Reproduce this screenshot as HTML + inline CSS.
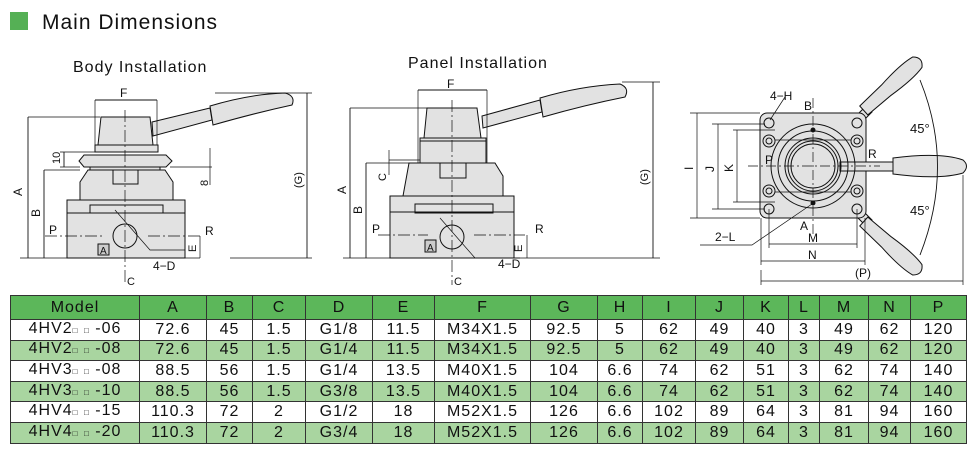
<!DOCTYPE html>
<html><head><meta charset="utf-8">
<style>
html,body{margin:0;padding:0;background:#fff;}
body{width:976px;height:455px;position:relative;overflow:hidden;font-family:"Liberation Sans",Arial,sans-serif;}
svg{position:absolute;left:0;top:0;}
table{position:absolute;left:10px;top:295px;width:956px;border-collapse:collapse;font-size:16px;color:#111;table-layout:fixed;}
td{border:1.5px solid #333;text-align:center;padding:0;line-height:16px;letter-spacing:1px;overflow:hidden;white-space:nowrap;}
tr{height:20.6px;}
tr.h{height:24px;}
tr.h td{background:#5cb75a;}
tr.g td{background:#a9d5a0;}
tr.w td{background:#fff;}
.sq{font-size:8px;vertical-align:baseline;}
</style></head><body>
<svg width="976" height="295" viewBox="0 0 976 295" font-family="Liberation Sans, Arial, sans-serif" fill="none" stroke="#111" stroke-width="1">
<rect x="10" y="12" width="18" height="18" fill="#55b055" stroke="none"/>
<text x="42" y="29" font-size="21" fill="#111" stroke="none" letter-spacing="1">Main Dimensions</text>
<text x="73" y="72" font-size="16" fill="#111" stroke="none" letter-spacing="1">Body Installation</text>
<text x="408" y="68" font-size="16" fill="#111" stroke="none" letter-spacing="1">Panel Installation</text>

<!-- ===== Body installation ===== -->
<g fill="#e2e2e2">
<path d="M152 122 L210 108 L212 120 L153 136 Z"/>
<path d="M210 106 Q250 94 285 93 Q296 96 292 105 Q255 113 213 125 Z"/>
<path d="M101 117 L150 117 L153 145 L98 145 Z"/>
<rect x="95" y="145" width="63" height="7"/>
<path d="M84 155 L166 155 L172 161 L166 167 L84 167 L79 161 Z"/>
<rect x="90" y="167" width="70" height="3"/>
<path d="M88 170 L165 170 L173 182 L173 200 L80 200 L80 182 Z"/>
<rect x="67" y="200" width="118" height="58"/>
<rect x="90" y="205" width="73" height="8"/>
</g>
<path d="M113 170 V184 H138 V170" />
<path d="M67 213 H185"/>
<circle cx="125" cy="236" r="12"/>
<rect x="98" y="244" width="11" height="11" fill="#ccc"/>
<text x="100" y="254" font-size="10" fill="#111" stroke="none">A</text>
<g stroke-width="0.7">
<path d="M125 110 V285" stroke-dasharray="12 3 2 3"/>
<path d="M45 236 H105 M148 236 H200" stroke-dasharray="12 3 2 3"/>
<path d="M115 210 L150 250 H185"/>
<path d="M28 117 H100 M44 170 H80 M20 258 H200 M230 258 H312 M215 93 H312"/>
<path d="M95 100 V145 M157 100 V145"/>
<path d="M60 152 H96 M60 167 H80 M170 167 H212 M210 148 V185"/>
<path d="M200 236 V258"/>
</g>
<g stroke-width="0.9">
<path d="M95 100 H157 M28 117 V258 M44 170 V258 M307 93 V258 M64 152 V167"/>
</g>
<text x="120" y="97" font-size="12" fill="#111" stroke="none">F</text>
<text x="22" y="196" font-size="12" fill="#111" stroke="none" transform="rotate(-90 22 196)">A</text>
<text x="40" y="217" font-size="12" fill="#111" stroke="none" transform="rotate(-90 40 217)">B</text>
<text x="60" y="164" font-size="11" fill="#111" stroke="none" transform="rotate(-90 60 164)">10</text>
<text x="208" y="186" font-size="11" fill="#111" stroke="none" transform="rotate(-90 208 186)">8</text>
<text x="302" y="188" font-size="11" fill="#111" stroke="none" transform="rotate(-90 302 188)">(G)</text>
<text x="49" y="234" font-size="12" fill="#111" stroke="none">P</text>
<text x="205" y="235" font-size="12" fill="#111" stroke="none">R</text>
<text x="196" y="252" font-size="11" fill="#111" stroke="none" transform="rotate(-90 196 252)">E</text>
<text x="153" y="270" font-size="12" fill="#111" stroke="none">4−D</text>
<text x="127" y="285" font-size="11" fill="#111" stroke="none">C</text>

<!-- ===== Panel installation ===== -->
<g fill="#e2e2e2">
<path d="M482 116 L540 100 L542 112 L483 128 Z"/>
<path d="M540 98 Q580 86 620 84 Q630 88 625 97 Q585 105 543 117 Z"/>
<path d="M427 108 L477 108 L481 138 L424 138 Z"/>
<rect x="420" y="138" width="66" height="25"/>
<path d="M409 163 L495 163 L503 176 L503 196 L403 196 Z"/>
<rect x="390" y="196" width="124" height="62"/>
<rect x="415" y="204" width="78" height="9"/>
</g>
<path d="M440 163 V178 H466 V163"/>
<path d="M390 212 H514 M420 141 H486"/>
<circle cx="452" cy="237" r="12"/>
<rect x="425" y="240" width="11" height="12" fill="#ccc"/>
<text x="427" y="251" font-size="10" fill="#111" stroke="none">A</text>
<g stroke-width="0.7">
<path d="M452 100 V285" stroke-dasharray="12 3 2 3"/>
<path d="M378 235 H428 M474 235 H525" stroke-dasharray="12 3 2 3"/>
<path d="M440 218 L475 258 H520"/>
<path d="M350 108 H427 M366 163 H420 M343 258 H660 M622 82 H660"/>
<path d="M418 90 V163 M487 90 V163"/>
<path d="M389 150 V175 M389 160 H420"/>
<path d="M527 235 V258"/>
</g>
<g stroke-width="0.9">
<path d="M418 90 H487 M350 108 V258 M366 163 V258 M653 82 V258"/>
</g>
<text x="447" y="88" font-size="12" fill="#111" stroke="none">F</text>
<text x="346" y="194" font-size="12" fill="#111" stroke="none" transform="rotate(-90 346 194)">A</text>
<text x="362" y="214" font-size="12" fill="#111" stroke="none" transform="rotate(-90 362 214)">B</text>
<text x="386" y="181" font-size="11" fill="#111" stroke="none" transform="rotate(-90 386 181)">C</text>
<text x="648" y="185" font-size="11" fill="#111" stroke="none" transform="rotate(-90 648 185)">(G)</text>
<text x="372" y="233" font-size="12" fill="#111" stroke="none">P</text>
<text x="535" y="233" font-size="12" fill="#111" stroke="none">R</text>
<text x="522" y="252" font-size="11" fill="#111" stroke="none" transform="rotate(-90 522 252)">E</text>
<text x="498" y="268" font-size="12" fill="#111" stroke="none">4−D</text>
<text x="454" y="285" font-size="11" fill="#111" stroke="none">C</text>

<!-- ===== Plan view ===== -->
<g fill="#e2e2e2">
<path d="M852 120 L866 106 L872 112 L858 126 Z"/>
<path d="M852 212 L866 226 L872 220 L858 206 Z"/>
<g transform="translate(892 85) rotate(-42)">
<path d="M-38 -6 L-8 -7 Q20 -10 34 -7 Q42 0 34 7 Q20 10 -8 7 L-38 6 Z"/>
</g>
<g transform="translate(892 247) rotate(42)">
<path d="M-38 -6 L-8 -7 Q20 -10 34 -7 Q42 0 34 7 Q20 10 -8 7 L-38 6 Z"/>
</g>
<rect x="760" y="113" width="106" height="105" rx="7"/>
<rect x="840" y="162" width="55" height="9"/>
<path d="M893 158 Q940 152 963 160 Q970 166 963 173 Q940 180 893 174 Z"/>
</g>
<circle cx="813" cy="166" r="42"/>
<circle cx="813" cy="166" r="35"/>
<circle cx="813" cy="166" r="28"/>
<circle cx="813" cy="166" r="25"/>
<circle cx="813" cy="166" r="22" fill="#e2e2e2"/>
<path d="M775 140 H851 M775 192 H851" stroke-width="0.7"/>
<g fill="#e2e2e2">
<circle cx="769" cy="123" r="5"/><circle cx="857" cy="123" r="5"/>
<circle cx="769" cy="209" r="5"/><circle cx="857" cy="209" r="5"/>
<circle cx="769" cy="141" r="6"/><circle cx="857" cy="141" r="6"/>
<circle cx="769" cy="191" r="6"/><circle cx="857" cy="191" r="6"/>
</g>
<circle cx="769" cy="141" r="3"/><circle cx="857" cy="141" r="3"/>
<circle cx="769" cy="191" r="3"/><circle cx="857" cy="191" r="3"/>
<circle cx="813" cy="130" r="2" fill="#111"/><circle cx="813" cy="203" r="2" fill="#111"/>
<g stroke-width="0.7">
<path d="M813 98 V235" stroke-dasharray="10 3 2 3"/>
<path d="M748 166 H880" stroke-dasharray="10 3 2 3"/>
<path d="M920 80 Q955 166 920 255" stroke-width="0.9"/>
<path d="M690 113 H760 M712 124 H765 M733 130 H775 M690 218 H760 M712 209 H765 M733 202 H775"/>
<path d="M769 209 V248 M857 209 V248 M761 218 V265 M865 218 V265 M761 270 V285 M963 175 V285"/>
<path d="M697 113 V218 M718 124 V209 M737 130 V202"/>
<path d="M769 244 H857 M761 261 H865 M761 281 H963"/>
<path d="M785 97 L770 120 M700 245 H752 L812 204"/>
</g>
<text x="770" y="100" font-size="12" fill="#111" stroke="none">4−H</text>
<text x="804" y="110" font-size="12" fill="#111" stroke="none">B</text>
<text x="800" y="230" font-size="12" fill="#111" stroke="none">A</text>
<text x="765" y="164" font-size="12" fill="#111" stroke="none">P</text>
<text x="868" y="158" font-size="12" fill="#111" stroke="none">R</text>
<text x="910" y="133" font-size="13" fill="#111" stroke="none">45°</text>
<text x="910" y="215" font-size="13" fill="#111" stroke="none">45°</text>
<text x="715" y="241" font-size="12" fill="#111" stroke="none">2−L</text>
<text x="808" y="242" font-size="12" fill="#111" stroke="none">M</text>
<text x="808" y="259" font-size="12" fill="#111" stroke="none">N</text>
<text x="855" y="277" font-size="12" fill="#111" stroke="none">(P)</text>
<text x="693" y="170" font-size="12" fill="#111" stroke="none" transform="rotate(-90 693 170)">I</text>
<text x="714" y="172" font-size="12" fill="#111" stroke="none" transform="rotate(-90 714 172)">J</text>
<text x="733" y="172" font-size="12" fill="#111" stroke="none" transform="rotate(-90 733 172)">K</text>
</svg>
<table>
<colgroup><col style="width:129px"><col style="width:67px"><col style="width:46px"><col style="width:53px"><col style="width:67px"><col style="width:62px"><col style="width:96px"><col style="width:67px"><col style="width:45px"><col style="width:53px"><col style="width:48px"><col style="width:45px"><col style="width:31px"><col style="width:49px"><col style="width:42px"><col style="width:56px"></colgroup>
<tr class="h"><td>Model</td><td>A</td><td>B</td><td>C</td><td>D</td><td>E</td><td>F</td><td>G</td><td>H</td><td>I</td><td>J</td><td>K</td><td>L</td><td>M</td><td>N</td><td>P</td></tr>
<tr class="w"><td>4HV2<span class="sq">□</span> <span class="sq">□</span> -06</td><td>72.6</td><td>45</td><td>1.5</td><td>G1/8</td><td>11.5</td><td>M34X1.5</td><td>92.5</td><td>5</td><td>62</td><td>49</td><td>40</td><td>3</td><td>49</td><td>62</td><td>120</td></tr>
<tr class="g"><td>4HV2<span class="sq">□</span> <span class="sq">□</span> -08</td><td>72.6</td><td>45</td><td>1.5</td><td>G1/4</td><td>11.5</td><td>M34X1.5</td><td>92.5</td><td>5</td><td>62</td><td>49</td><td>40</td><td>3</td><td>49</td><td>62</td><td>120</td></tr>
<tr class="w"><td>4HV3<span class="sq">□</span> <span class="sq">□</span> -08</td><td>88.5</td><td>56</td><td>1.5</td><td>G1/4</td><td>13.5</td><td>M40X1.5</td><td>104</td><td>6.6</td><td>74</td><td>62</td><td>51</td><td>3</td><td>62</td><td>74</td><td>140</td></tr>
<tr class="g"><td>4HV3<span class="sq">□</span> <span class="sq">□</span> -10</td><td>88.5</td><td>56</td><td>1.5</td><td>G3/8</td><td>13.5</td><td>M40X1.5</td><td>104</td><td>6.6</td><td>74</td><td>62</td><td>51</td><td>3</td><td>62</td><td>74</td><td>140</td></tr>
<tr class="w"><td>4HV4<span class="sq">□</span> <span class="sq">□</span> -15</td><td>110.3</td><td>72</td><td>2</td><td>G1/2</td><td>18</td><td>M52X1.5</td><td>126</td><td>6.6</td><td>102</td><td>89</td><td>64</td><td>3</td><td>81</td><td>94</td><td>160</td></tr>
<tr class="g"><td>4HV4<span class="sq">□</span> <span class="sq">□</span> -20</td><td>110.3</td><td>72</td><td>2</td><td>G3/4</td><td>18</td><td>M52X1.5</td><td>126</td><td>6.6</td><td>102</td><td>89</td><td>64</td><td>3</td><td>81</td><td>94</td><td>160</td></tr>
</table>
</body></html>
